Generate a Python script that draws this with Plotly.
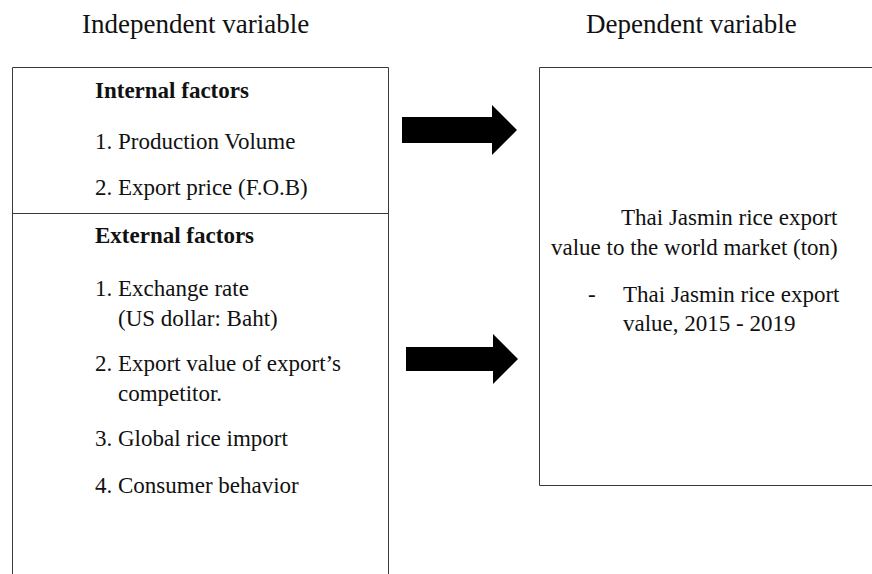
import plotly.graph_objects as go

W, H = 872, 574
FONT = "Liberation Serif, Times New Roman, serif"

# ---- text content ----
titles = ["Independent variable", "Dependent variable"]
internal_header = "Internal factors"
internal_items = ["1. Production Volume", "2. Export price (F.O.B)"]
external_header = "External factors"
external_items = [
    ("1. Exchange rate", "(US dollar: Baht)"),
    ("2. Export value of export\u2019s", "competitor."),
    ("3. Global rice import", None),
    ("4. Consumer behavior", None),
]
dep_lines = ["Thai Jasmin rice export", "value to the world market (ton)"]
dep_bullet = ["Thai Jasmin rice export", "value, 2015 - 2019"]

fig = go.Figure()
fig.add_trace(go.Scatter(x=[0, W], y=[0, H], mode="markers",
                         marker=dict(opacity=0), hoverinfo="skip", showlegend=False))

shapes = []
line = dict(color="#3a3a3a", width=1)
# left box (open at bottom)
shapes.append(dict(type="path", path="M 12.5 600 L 12.5 67.5 L 388.5 67.5 L 388.5 600",
                   line=line, xref="x", yref="y"))
shapes.append(dict(type="line", x0=12.5, x1=388.5, y0=213.5, y1=213.5, line=line,
                   xref="x", yref="y"))
# right box
shapes.append(dict(type="rect", x0=539.5, x1=880, y0=67.5, y1=485.5, line=line,
                   xref="x", yref="y"))


def arrow(x0, xs, xt, yc, shaft_h, head_h):
    return ("M {a} {b} L {c} {b} L {c} {d} L {e} {f} L {c} {g} L {c} {h} L {a} {h} Z"
            .format(a=x0, b=yc - shaft_h / 2, c=xs, d=yc - head_h / 2, e=xt, f=yc,
                    g=yc + head_h / 2, h=yc + shaft_h / 2))


shapes.append(dict(type="path", path=arrow(402, 492, 517, 130, 26, 50),
                   fillcolor="black", line=dict(width=0), xref="x", yref="y"))
shapes.append(dict(type="path", path=arrow(406, 493, 518, 359, 24, 50),
                   fillcolor="black", line=dict(width=0), xref="x", yref="y"))

ann = []


def txt(x, y, s, size=23, anchor="left", bold=False):
    ann.append(dict(x=x, y=y, xref="x", yref="y", text=("<b>%s</b>" % s) if bold else s,
                    showarrow=False, xanchor=anchor, yanchor="middle",
                    font=dict(family=FONT, size=size, color="#111111")))


txt(195, 24, titles[0], size=27, anchor="center")
txt(691, 24, titles[1], size=27, anchor="center")

txt(93, 90, internal_header, bold=True)
for i, s in enumerate(internal_items):
    txt(93, 141 + 46 * i, s)

txt(93, 235, external_header, bold=True)
ys = [288, 363, 438, 485]
for (a, b), y in zip(external_items, ys):
    txt(93, y, a)
    if b:
        txt(116, y + 30, b)

txt(840, 217, dep_lines[0], anchor="right")
txt(840, 247, dep_lines[1], anchor="right")
txt(592, 294, "-", anchor="center")
txt(621, 294, dep_bullet[0])
txt(621, 323, dep_bullet[1])

fig.update_layout(
    width=W, height=H, margin=dict(l=0, r=0, t=0, b=0),
    paper_bgcolor="white", plot_bgcolor="white",
    xaxis=dict(range=[0, W], visible=False, fixedrange=True),
    yaxis=dict(range=[H, 0], visible=False, fixedrange=True),
    shapes=shapes, annotations=ann, showlegend=False,
)
fig.write_html("out.html", config={"displayModeBar": False},
               post_script="document.body.style.margin='0';document.body.style.overflow='hidden';")
